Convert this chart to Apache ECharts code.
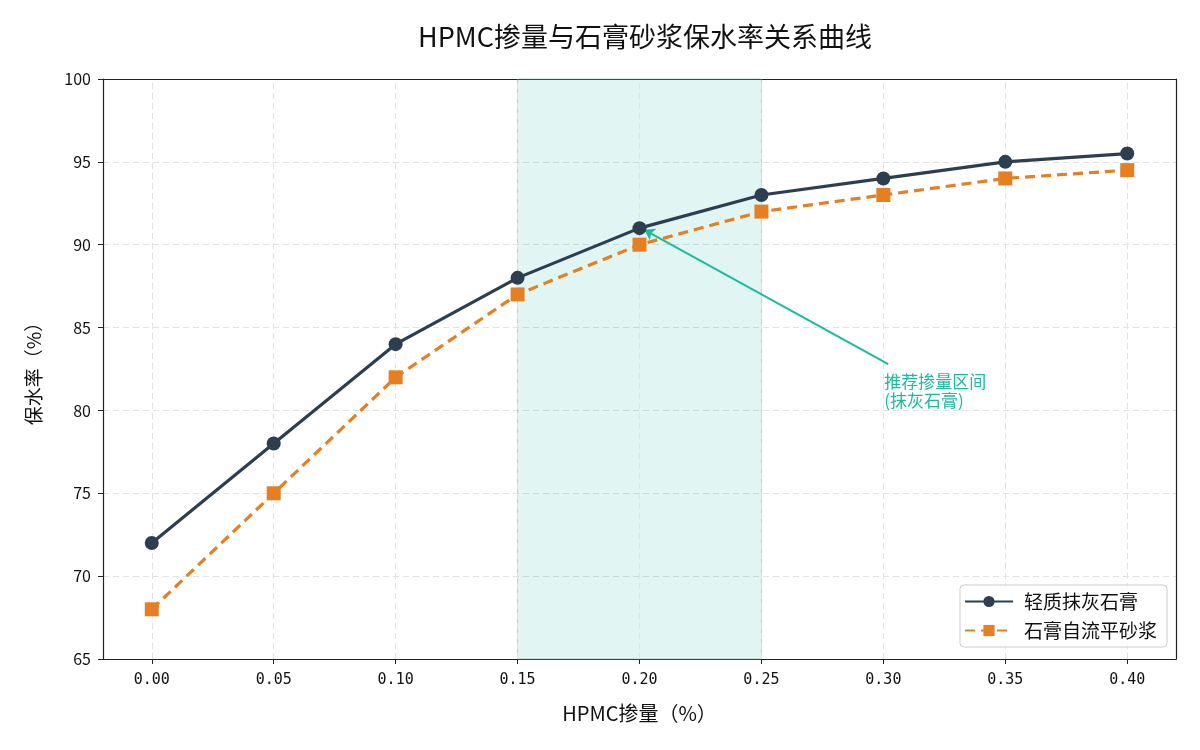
<!DOCTYPE html>
<html>
<head>
<meta charset="utf-8">
<script src="https://cdn.jsdelivr.net/npm/echarts@6/dist/echarts.min.js"></script>
<style>
  html, body { margin: 0; padding: 0; background: #fff; }
  #chart { width: 1200px; height: 750px; }
</style>
</head>
<body>
<div id="chart"></div>
<script>
const dosage = [0.00, 0.05, 0.10, 0.15, 0.20, 0.25, 0.30, 0.35, 0.40];
const plasterLight = [72, 78, 84, 88, 91, 93, 94, 95, 95.5];
const plasterSelfLevel = [68, 75, 82, 87, 90, 92, 93, 94, 94.5];
const xTicks = [0.00, 0.05, 0.10, 0.15, 0.20, 0.25, 0.30, 0.35, 0.40];
const bandRange = [0.15, 0.25];
const noteText = '推荐掺量区间\n(抹灰石膏)';
const arrowFrom = [0.302, 82.8];
const arrowTo = [0.202, 90.9];
const notePos = [0.302, 82.3];

const font = '"Noto Sans CJK SC", "DejaVu Sans", sans-serif';
const gridLine = { color: '#e2e2e2', type: [6, 4], width: 1 };
const frame = { color: '#222', width: 1.2 };

let myChart = echarts.init(document.getElementById('chart'));
const option = {
  backgroundColor: '#fff',
  animation: false,
  textStyle: { fontFamily: font },
  title: {
    text: 'HPMC掺量与石膏砂浆保水率关系曲线',
    left: 640,
    textAlign: 'center',
    top: 18,
    textStyle: { fontSize: 27, fontWeight: 'normal', color: '#111', fontFamily: font }
  },
  grid: { left: 103, right: 24, top: 79, bottom: 91 },
  legend: {
    right: 33, bottom: 103,
    orient: 'vertical',
    itemWidth: 48, itemHeight: 14, itemGap: 10,
    padding: [7, 10, 7, 4],
    backgroundColor: 'rgba(255,255,255,0.9)',
    borderColor: '#ccc', borderWidth: 1, borderRadius: 4,
    textStyle: { fontSize: 19, color: '#111', fontFamily: font, padding: [0, 0, 0, 6] },
    data: ['轻质抹灰石膏', '石膏自流平砂浆']
  },
  xAxis: [{
    type: 'value',
    min: -0.02, max: 0.42,
    name: 'HPMC掺量（%）',
    nameLocation: 'middle',
    nameGap: 44,
    nameTextStyle: { fontSize: 20, color: '#111', fontFamily: font },
    axisLine: { show: true, onZero: false, lineStyle: frame },
    axisTick: { show: true, length: 5, customValues: xTicks, lineStyle: { color: '#222' } },
    axisLabel: {
      customValues: xTicks, margin: 14, fontSize: 15, color: '#111',
      fontFamily: '"DejaVu Sans Mono", monospace',
      formatter: v => v.toFixed(2)
    },
    splitLine: { show: false }
  }, {
    type: 'value', position: 'top',
    min: -0.02, max: 0.42,
    axisLine: { show: true, onZero: false, lineStyle: frame },
    axisTick: { show: false }, axisLabel: { show: false }, splitLine: { show: false }
  }],
  yAxis: [{
    type: 'value',
    min: 65, max: 100, interval: 5,
    name: '保水率（%）',
    nameLocation: 'middle',
    nameGap: 60,
    nameTextStyle: { fontSize: 19, color: '#111', fontFamily: font },
    axisLine: { show: true, onZero: false, lineStyle: frame },
    axisTick: { show: true, length: 5, lineStyle: { color: '#222' } },
    axisLabel: { fontSize: 16, color: '#111', margin: 12 },
    splitLine: { show: true, lineStyle: gridLine }
  }, {
    type: 'value', position: 'right',
    min: 65, max: 100, interval: 5,
    axisLine: { show: true, onZero: false, lineStyle: frame },
    axisTick: { show: false }, axisLabel: { show: false }, splitLine: { show: false }
  }],
  series: [
    {
      // vertical grid lines + recommended band, kept under the curves
      name: 'grid',
      type: 'line',
      data: [],
      z: 1,
      silent: true,
      markArea: {
        silent: true,
        z: 1,
        itemStyle: { color: 'rgba(26,188,156,0.13)', borderColor: 'rgba(120,170,160,0.5)', borderWidth: 1 },
        data: [[{ xAxis: bandRange[0] }, { xAxis: bandRange[1] }]]
      },
      markLine: {
        silent: true,
        z: 1,
        symbol: ['none', 'none'],
        label: { show: false },
        lineStyle: gridLine,
        data: xTicks.map(x => ({ xAxis: x }))
      }
    },
    {
      name: '轻质抹灰石膏',
      type: 'line',
      data: dosage.map((x, i) => [x, plasterLight[i]]),
      symbol: 'circle',
      symbolSize: 14,
      z: 4,
      lineStyle: { color: '#2c3e50', width: 3.2 },
      itemStyle: { color: '#2c3e50' }
    },
    {
      name: '石膏自流平砂浆',
      type: 'line',
      data: dosage.map((x, i) => [x, plasterSelfLevel[i]]),
      symbol: 'rect',
      symbolSize: 14,
      z: 3,
      lineStyle: { color: '#e67e22', width: 3.2, type: [10, 6] },
      itemStyle: { color: '#e67e22' },
      markLine: {
        silent: true,
        z: 2,
        symbol: ['none', 'arrow'],
        symbolSize: 10,
        label: { show: false },
        lineStyle: { color: '#1abc9c', type: 'solid', width: 2 },
        data: [[{ coord: arrowFrom }, { coord: arrowTo }]]
      },
      markPoint: {
        silent: true,
        symbol: 'circle',
        symbolSize: 0,
        data: [{ coord: notePos }],
        label: {
          show: true,
          position: 'right',
          distance: -4,
          align: 'left',
          verticalAlign: 'top',
          formatter: noteText,
          color: '#1abc9c',
          fontSize: 17,
          lineHeight: 19,
          fontFamily: font
        }
      }
    }
  ]
};
myChart.setOption(option, true);
myChart.resize();
</script>
</body>
</html>
